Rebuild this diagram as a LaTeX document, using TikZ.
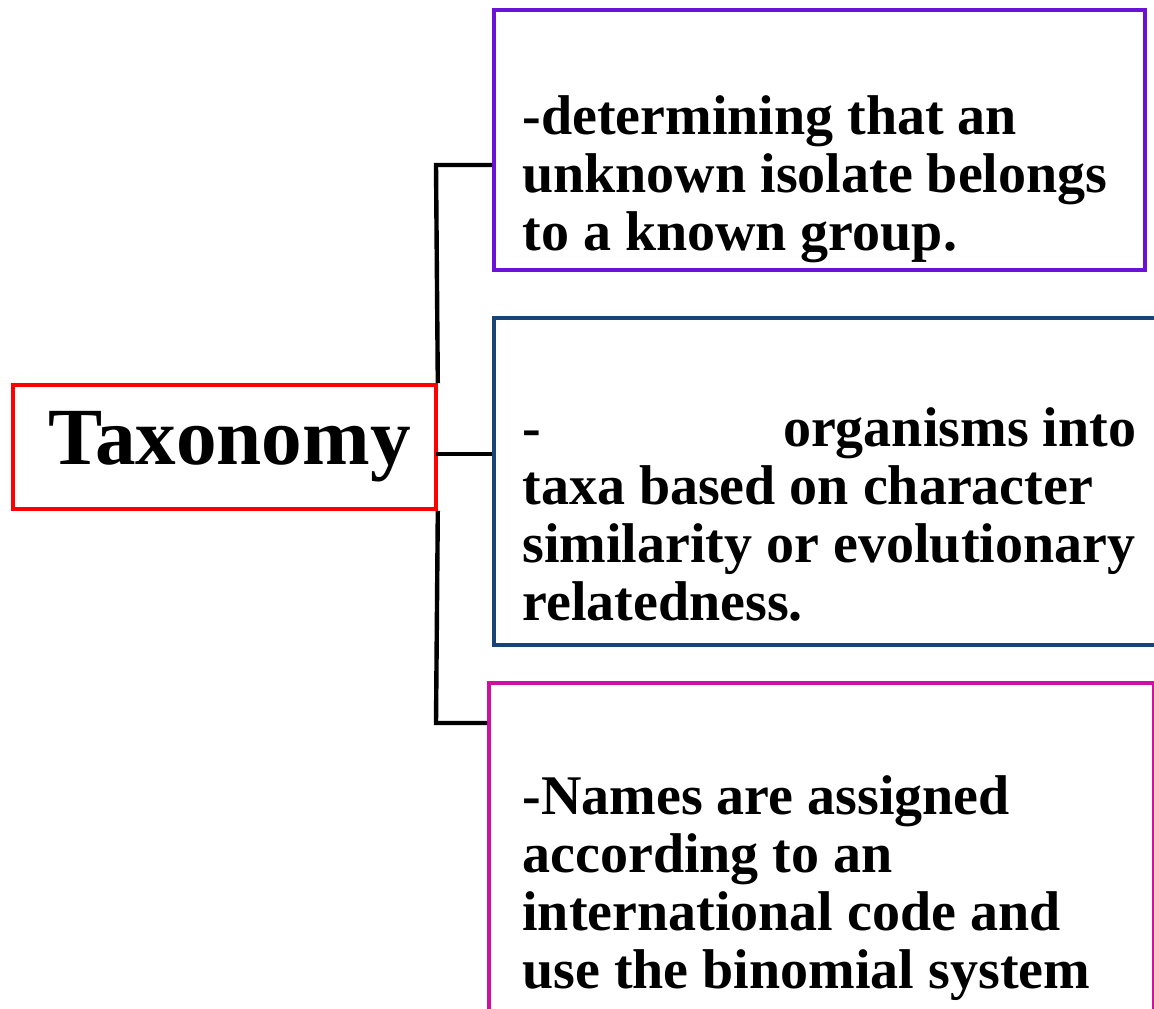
\documentclass[tikz,border=0pt]{standalone}
\usepackage{fontspec}
\setmainfont{Liberation Serif}
\usetikzlibrary{positioning,calc}
\definecolor{boxpurple}{HTML}{6B12D8}
\definecolor{boxblue}{HTML}{1A4478}
\definecolor{boxpink}{HTML}{D010A0}
\tikzstyle{topic}=[draw=red,line width=1.8pt,minimum width=211.5pt,minimum height=62pt,inner sep=0pt,font=\fontsize{40.6}{44}\selectfont\bfseries]
\tikzstyle{infobox}=[line width=1.8pt,inner sep=0pt,anchor=north west]
\tikzstyle{infotext}=[anchor=base west,align=left,inner sep=0pt,font=\fontsize{28}{29}\selectfont\bfseries]
\tikzstyle{link}=[line width=2.2pt]

\begin{document}
\begin{tikzpicture}[x=0.5pt,y=-0.5pt]
    \useasboundingbox (0,0) rectangle (1154,1008);
    \clip (0,0) rectangle (1154,1008);
    % boxes
    \node [topic] (tax) at (224.5,447) {\hspace*{5pt}Taxonomy};
    \node [infobox,draw=boxpurple,minimum width=325.5pt,minimum height=130pt] (ident) at (492,8) {};
    \node [infobox,draw=boxblue,minimum width=350pt,minimum height=163.5pt] (classif) at (492,316) {};
    \node [infobox,draw=boxpink,minimum width=332.5pt,minimum height=200pt] (nomen) at (487,681) {};
    % texts (anchored on the last line)
    \node [infotext] (identtxt) at (522,250) {-determining that an\\unknown isolate belongs\\to a known group.};
    \node [infotext] (classiftxt) at (522,620) {-\hspace*{121pt}organisms into\\taxa based on character\\similarity or evolutionary\\relatedness.};
    \node [infotext] (nomentxt) at (522,988) {-Names are assigned\\according to an\\international code and\\use the binomial system};
    % connectors
    \coordinate (up) at (436,165);
    \coordinate (mid) at (436,454);
    \coordinate (down) at (436,723);
    \draw [link] (tax.north east) -- (up) -- (up -| ident.west);
    \draw [link] (mid) -- (mid -| classif.west);
    \draw [link] (tax.south east) -- (down) -- (down -| nomen.west);
\end{tikzpicture}
\end{document}
